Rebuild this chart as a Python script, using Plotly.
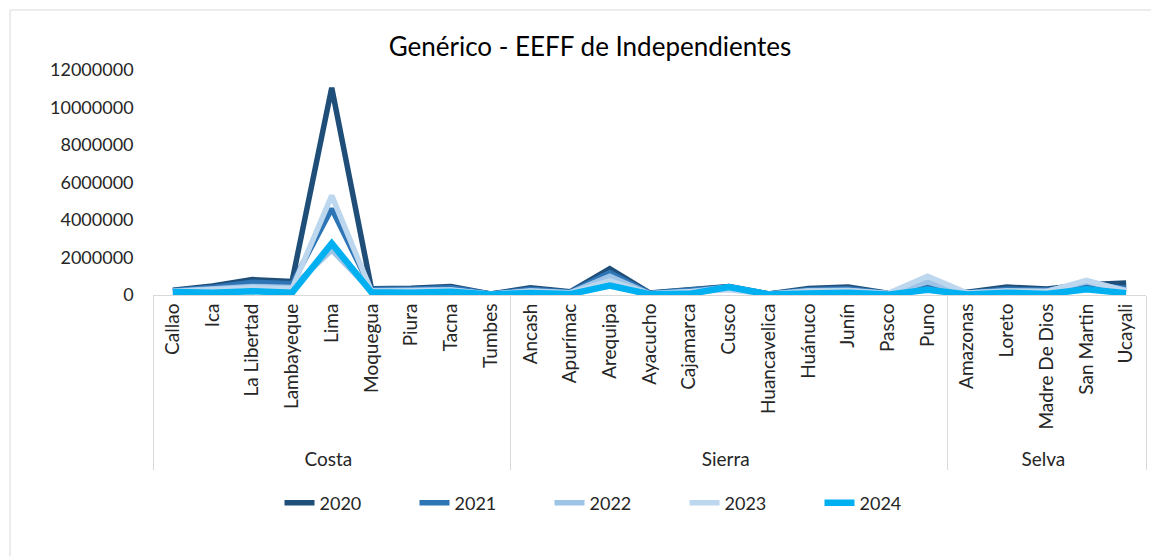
import plotly.graph_objects as go

departments = ["Callao", "Ica", "La Libertad", "Lambayeque", "Lima", "Moquegua", "Piura", "Tacna", "Tumbes",
               "Ancash", "Apurímac", "Arequipa", "Ayacucho", "Cajamarca", "Cusco", "Huancavelica", "Huánuco",
               "Junín", "Pasco", "Puno",
               "Amazonas", "Loreto", "Madre De Dios", "San Martin", "Ucayali"]
regions = ["Costa"] * 9 + ["Sierra"] * 11 + ["Selva"] * 5

v2020 = [250000, 480000, 820000, 720000, 11050000, 330000, 360000, 450000, 60000,
         380000, 170000, 1400000, 110000, 280000, 450000, 60000, 350000, 420000, 100000, 300000,
         150000, 420000, 320000, 550000, 640000]
v2021 = [230000, 400000, 680000, 600000, 4600000, 300000, 300000, 380000, 50000,
         300000, 150000, 1200000, 90000, 230000, 430000, 55000, 280000, 330000, 90000, 500000,
         120000, 300000, 260000, 600000, 350000]
v2022 = [200000, 300000, 450000, 400000, 2400000, 220000, 230000, 280000, 40000,
         230000, 120000, 1000000, 70000, 180000, 420000, 45000, 220000, 250000, 80000, 700000,
         100000, 220000, 200000, 700000, 250000]
v2023 = [190000, 260000, 380000, 330000, 5300000, 200000, 210000, 250000, 40000,
         200000, 110000, 750000, 65000, 160000, 280000, 45000, 200000, 230000, 80000, 1000000,
         100000, 200000, 180000, 780000, 200000]
v2024 = [160000, 120000, 200000, 120000, 2750000, 150000, 120000, 170000, 30000,
         100000, 50000, 500000, 40000, 60000, 420000, 30000, 80000, 120000, 20000, 280000,
         30000, 120000, 50000, 300000, 100000]

years = ["2020", "2021", "2022", "2023", "2024"]
series = [v2020, v2021, v2022, v2023, v2024]
colors = ["#1F4E79", "#2E75B6", "#9DC3E6", "#BDD7EE", "#00B0F0"]
widths = [5.5, 5.5, 5.5, 5.5, 6.5]

fig = go.Figure()
for name, vals, c, w in zip(years, series, colors, widths):
    fig.add_trace(go.Scatter(
        x=[regions, departments], y=vals, name=name, mode="lines",
        line=dict(color=c, width=w)))

# page body has an 8px margin: figure is sized/offset to compensate
W, H = 1151, 548
L, R, T, B = 145, 13, 62, 261
pw, ph = W - L - R, H - T - B

fig.update_layout(
    width=W, height=H,
    paper_bgcolor="white", plot_bgcolor="white",
    font=dict(family="Lato, Noto Sans, sans-serif", color="#404040", size=18),
    title=dict(text="Genérico - EEFF de Independientes", x=(590 - 8) / W, xanchor="center",
               y=(H - 39) / H, yanchor="middle", font=dict(size=26, color="black")),
    margin=dict(l=L, r=R, t=T, b=B),
    showlegend=True,
    legend=dict(orientation="h", x=(617 - 8 - L) / pw, xanchor="center",
                y=-(503 - 8 - T - ph) / ph, yanchor="middle",
                font=dict(size=18, color="#262626"),
                entrywidth=90, entrywidthmode="pixels"),
)
fig.update_xaxes(type="multicategory", range=[-0.5, 24.5], tickangle=-90, showline=True,
                 linecolor="#D9D9D9", linewidth=1, showgrid=False, dividercolor="#D9D9D9",
                 dividerwidth=1, tickfont=dict(size=19, color="#262626"), ticks="")
fig.update_yaxes(range=[0, 12000000], dtick=2000000, tickformat="d", showgrid=False,
                 zeroline=False, showline=False, tickfont=dict(size=18, color="#262626"),
                 ticksuffix="    ")
fig.add_shape(type="rect", xref="paper", yref="paper",
              x0=(2 - L) / pw, x1=(W + 20 - L) / pw, y0=-(H + 20 - T - ph) / ph, y1=1 + (T - 2) / ph,
              line=dict(color="#D9D9D9", width=1), layer="below")

fig.write_html("out.html")
